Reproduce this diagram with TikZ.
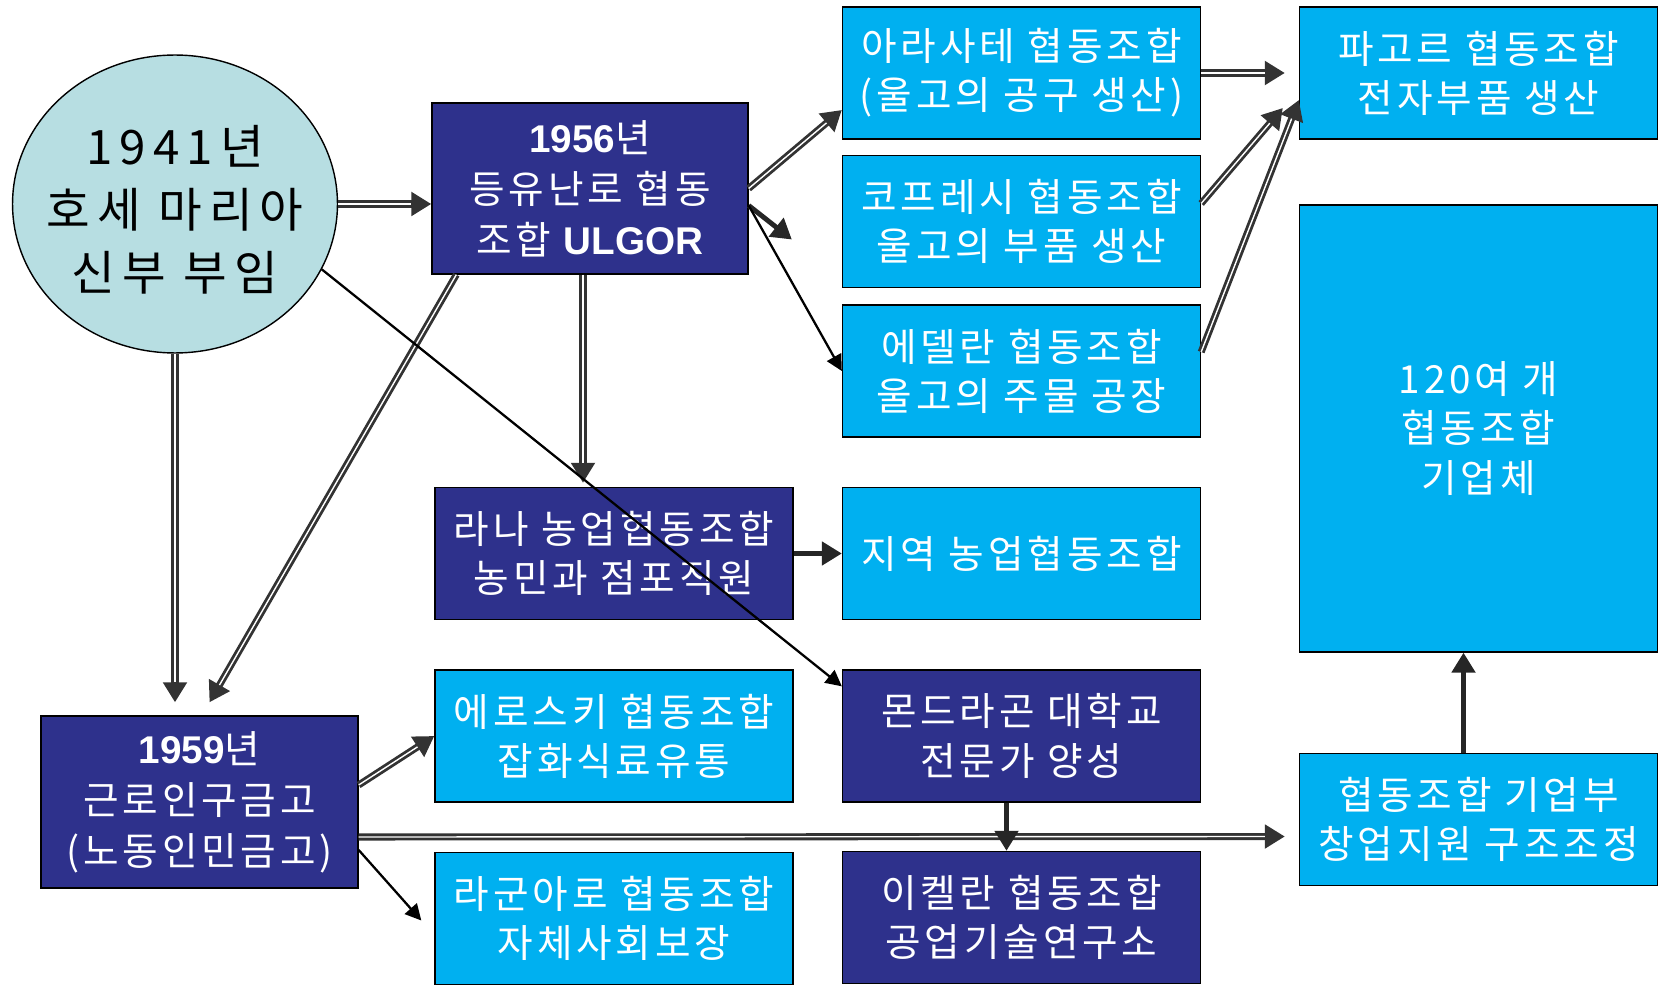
\documentclass[tikz,border=0pt]{standalone}
\usepackage{fontspec}
\setmainfont{Noto Sans CJK KR}[LetterSpace=10]
\newfontfamily\krwide{Noto Sans CJK KR}[LetterSpace=15]
\newfontfamily\latf{Liberation Sans}
\usetikzlibrary{shapes.geometric,arrows.meta,calc}

\definecolor{navyb}{RGB}{46,49,140}
\definecolor{skyb}{RGB}{0,176,240}
\definecolor{palec}{RGB}{183,222,226}

\begin{document}
\begin{tikzpicture}[x=0.02cm,y=-0.02cm,
  box/.style={rectangle,draw=black,line width=0.8pt,text=white,align=center,inner sep=0pt,
    minimum width=7.16cm,minimum height=2.64cm,font=\fontsize{22}{28}\selectfont},
  dark/.style={box,fill=navyb},
  light/.style={box,fill=skyb},
  arrowhd/.style={-{Triangle[length=0.4cm,width=0.46cm]}},
  dbl/.style={arrowhd,draw=black!80,line width=4pt,
    postaction={draw=white,line width=0.8pt,-,shorten >=0.4cm}},
  heavy/.style={arrowhd,draw=black!85,line width=2.8pt},
  fine/.style={-{Triangle[length=0.32cm,width=0.32cm]},draw=black,line width=1.3pt}]

\useasboundingbox (0,0) rectangle (1663,986);

\node[ellipse,draw=black,line width=0.8pt,fill=palec,inner sep=0pt,
  minimum width=6.5cm,minimum height=5.96cm] (jose) at (175,204) {};
\node[align=center,inner sep=0pt,font=\krwide\fontsize{27}{36}\selectfont] (josetxt) at ($(jose.center)+(0,6)$)
  {1941년\\호세 마리아\\신부 부임};

\node[dark,minimum width=6.32cm,minimum height=3.42cm,font=\fontsize{22}{29}\selectfont] (ulgor) at (590,188.5)
  {{\latf\bfseries 1956}년\\등유난로 협동\\조합 {\latf\bfseries ULGOR}};
\node[light] (arasate) at (1021.5,73) {아라사테 협동조합\\(울고의 공구 생산)};
\node[light] (copreci) at (1021.5,221.5) {코프레시 협동조합\\울고의 부품 생산};
\node[light] (edertan) at (1021.5,371) {에델란 협동조합\\울고의 주물 공장};
\node[light] (fagor) at (1478.5,73) {파고르 협동조합\\전자부품 생산};
\node[light,minimum height=8.94cm] (coops) at (1478.5,428.5) {120여 개\\협동조합\\기업체};

\node[dark] (lana) at (614,553.5) {라나 농업협동조합\\농민과 점포직원};
\node[light] (agri) at (1021.5,553.5) {지역 농업협동조합};
\node[light] (eroski) at (614,736) {에로스키 협동조합\\잡화식료유통};
\node[dark] (univ) at (1021.5,736) {몬드라곤 대학교\\전문가 양성};
\node[dark,minimum width=6.34cm,minimum height=3.44cm,font=\fontsize{22}{29}\selectfont] (caja) at (199.5,802)
  {{\latf\bfseries 1959}년\\근로인구금고\\(노동인민금고)};
\node[light] (division) at (1478.5,819.5) {협동조합 기업부\\창업지원 구조조정};
\node[light] (lagun) at (614,918.5) {라군아로 협동조합\\자체사회보장};
\node[dark] (ikerlan) at (1021.5,917.5) {이켈란 협동조합\\공업기술연구소};

% arrows
\draw[dbl] (jose.east) -- (jose.east -| ulgor.west);
\draw[dbl] (ulgor.east) -- ($(arasate.west)+(0,37)$);
\draw[heavy] ($(ulgor.east)+(0,17)$) -- ($(copreci.west)+(-50,18)$);
\draw[fine] ($(ulgor.east)+(0,17)$) -- (edertan.west);
\draw[dbl] ($(ulgor.south)+(-7,0)$) -- ($(lana.north)+(-31,-4)$);
\draw[dbl] ($(ulgor.south west)+(25,0)$) -- ($(caja.north)+(10,-13)$);
\draw[dbl] (jose.south) -- ($(jose.south |- caja.north)+(0,-13)$);
\draw[fine] (jose.-24.5) -- ($(univ.north west)+(0,17)$);

\draw[dbl] (arasate.east) -- ($(fagor.west)+(-14,0)$);
\draw[dbl] ($(copreci.east)+(0,-18)$) -- ($(fagor.west)+(-16,35)$);
\draw[dbl] ($(edertan.east)+(0,-19)$) -- ($(fagor.west)+(0,27)$);

\draw[heavy] (lana.east) -- (agri.west);
\draw[dbl] ($(caja.east)+(0,-17)$) -- (eroski.west);
\draw[dbl] ($(caja.east)+(0,35)$) -- ($(division.west)+(-14,17)$);
\draw[fine] ($(caja.east)+(0,48)$) -- ($(lagun.west)+(-13,2)$);
\draw[heavy] ($(univ.south)+(-15,0)$) -- ($(ikerlan.north)+(-15,0)$);
\draw[heavy] ($(division.north)+(-15,0)$) -- ($(coops.south)+(-15,0)$);

\end{tikzpicture}
\end{document}
